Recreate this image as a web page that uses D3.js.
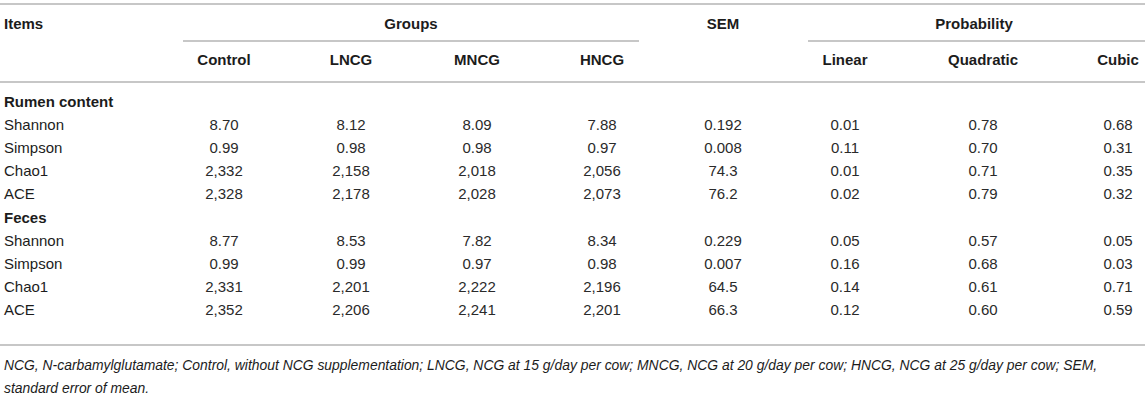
<!DOCTYPE html>
<html>
<head>
<meta charset="utf-8">
<script src="https://cdn.jsdelivr.net/npm/d3@7"></script>
<style>
  body { margin: 0; background: #fff; }
  text { font-family: "Liberation Sans", Arial, Helvetica, sans-serif; fill: #1c1c1c; }
</style>
</head>
<body>
<div id="table"></div>
<script>
const w = 1145;
const h = 410;

// column headers
const groups = ['Control', 'LNCG', 'MNCG', 'HNCG'];
const probs = ['Linear', 'Quadratic', 'Cubic'];
const columns = ['Items', ...groups, 'SEM', ...probs];

// sections and rows
const sections = ['Rumen content', 'Feces'];
const items = ['Shannon', 'Simpson', 'Chao1', 'ACE'];

const rumenValues = [
    ['8.70', '8.12', '8.09', '7.88', '0.192', '0.01', '0.78', '0.68'],
    ['0.99', '0.98', '0.98', '0.97', '0.008', '0.11', '0.70', '0.31'],
    ['2,332', '2,158', '2,018', '2,056', '74.3', '0.01', '0.71', '0.35'],
    ['2,328', '2,178', '2,028', '2,073', '76.2', '0.02', '0.79', '0.32']
];
const fecesValues = [
    ['8.77', '8.53', '7.82', '8.34', '0.229', '0.05', '0.57', '0.05'],
    ['0.99', '0.99', '0.97', '0.98', '0.007', '0.16', '0.68', '0.03'],
    ['2,331', '2,201', '2,222', '2,196', '64.5', '0.14', '0.61', '0.71'],
    ['2,352', '2,206', '2,241', '2,201', '66.3', '0.12', '0.60', '0.59']
];

const footnote = [
    'NCG, N-carbamylglutamate; Control, without NCG supplementation; LNCG, NCG at 15 g/day per cow; MNCG, NCG at 20 g/day per cow; HNCG, NCG at 25 g/day per cow; SEM,',
    'standard error of mean.'
];

// layout: column centres
const colX = d3.scaleOrdinal()
    .domain(columns)
    .range([4, 224, 351, 477, 602, 723, 845, 983, 1118]);

// build body rows
const bodyRows = [];
sections.forEach((s, si) => {
    bodyRows.push({ type: 'section', label: s });
    const vals = si === 0 ? rumenValues : fecesValues;
    items.forEach((it, i) => bodyRows.push({ type: 'row', label: it, values: vals[i] }));
});

const yScale = d3.scaleBand()
    .domain(d3.range(bodyRows.length))
    .range([90, 322]);

const svg = d3.select('#table')
    .append('svg')
    .attr('width', w)
    .attr('height', h);

const lineColor = '#b4b4b4';
const hline = (x1, x2, y) => svg.append('line')
    .attr('x1', x1).attr('x2', x2).attr('y1', y).attr('y2', y)
    .attr('stroke', lineColor).attr('stroke-width', 1.6);

hline(0, w, 4);
hline(183, 639, 41);
hline(808, w, 41);
hline(0, w, 82);
hline(0, w, 345);

// header
const head = svg.append('g').style('font-weight', 'bold').style('font-size', '15px');
head.append('text').attr('x', colX('Items')).attr('y', 29).text('Items');
head.append('text').attr('x', 411).attr('y', 29).attr('text-anchor', 'middle').text('Groups');
head.append('text').attr('x', colX('SEM')).attr('y', 29).attr('text-anchor', 'middle').text('SEM');
head.append('text').attr('x', 974).attr('y', 29).attr('text-anchor', 'middle').text('Probability');

head.selectAll('.sub')
    .data([...groups, ...probs])
    .enter()
    .append('text')
    .attr('class', 'sub')
    .attr('x', d => colX(d))
    .attr('y', 65)
    .attr('text-anchor', 'middle')
    .text(d => d);

// body
const rows = svg.selectAll('.row')
    .data(bodyRows)
    .enter()
    .append('g')
    .attr('class', 'row')
    .attr('transform', (d, i) => 'translate(0,' + (yScale(i) + yScale.bandwidth() / 2 + 5) + ')')
    .style('font-size', '15px');

rows.append('text')
    .attr('x', colX('Items'))
    .style('font-weight', d => d.type === 'section' ? 'bold' : 'normal')
    .text(d => d.label);

rows.filter(d => d.type === 'row')
    .selectAll('.val')
    .data(d => d.values)
    .enter()
    .append('text')
    .attr('class', 'val')
    .attr('x', (v, i) => colX(columns[i + 1]))
    .attr('text-anchor', 'middle')
    .style('fill', '#2a2a2a')
    .text(v => v);

// footnote
svg.selectAll('.foot')
    .data(footnote)
    .enter()
    .append('text')
    .attr('class', 'foot')
    .attr('x', 4)
    .attr('y', (d, i) => 370 + i * 23)
    .style('font-size', '13.9px')
    .style('font-style', 'italic')
    .text(d => d);
</script>
</body>
</html>
